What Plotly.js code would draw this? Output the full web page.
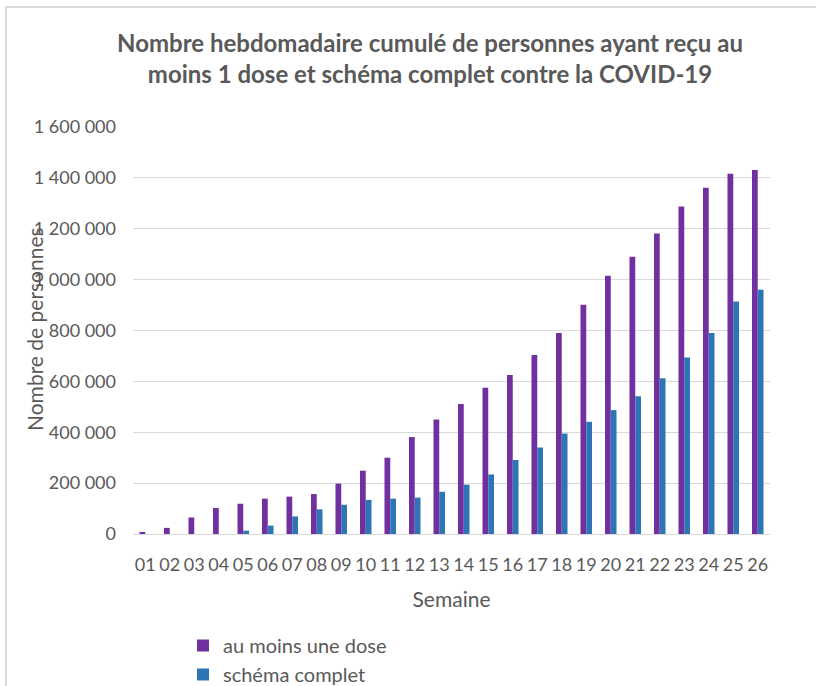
<!DOCTYPE html>
<html>
<head>
<meta charset="utf-8">
<script src="https://cdn.plot.ly/plotly-3.0.1.min.js"></script>
<style>
  body { margin: 0; background: #fff; }
  #chart { width: 816px; height: 686px; }
</style>
</head>
<body>
<div id="chart"></div>
<script>
// semaines 01 à 26
const semaines = ['01','02','03','04','05','06','07','08','09','10','11','12','13',
                  '14','15','16','17','18','19','20','21','22','23','24','25','26']

// valeurs (approx.)
const auMoinsUneDose = [7000, 24000, 65000, 102000, 119000, 139000, 147000, 157000, 198000,
                        249000, 300000, 381000, 450000, 511000, 575000, 625000, 704000, 790000,
                        901000, 1015000, 1090000, 1181000, 1287000, 1361000, 1416000, 1431000]
const schemaComplet = [0, 0, 0, 0, 13000, 33000, 69000, 97000, 115000,
                       134000, 139000, 143000, 166000, 194000, 234000, 291000, 340000, 395000,
                       441000, 487000, 542000, 612000, 694000, 790000, 914000, 960000]

const grey = '#595959'
const font = 'Lato, "Open Sans", sans-serif'

let traces = [
    {
        x: semaines,
        y: auMoinsUneDose,
        type: 'bar',
        name: 'au moins une dose',
        marker: { color: '#7030A0' },
        legendgroup: 'a'
    },
    {
        x: semaines,
        y: schemaComplet,
        type: 'bar',
        name: 'schéma complet',
        marker: { color: '#2E75B6' },
        legendgroup: 'b'
    }
]

let layout = {
    width: 816,
    height: 686,
    margin: { l: 133, r: 46, t: 127, b: 152, autoexpand: false },
    paper_bgcolor: '#ffffff',
    plot_bgcolor: '#ffffff',
    separators: ', ',
    font: { family: font, color: grey, size: 17 },
    barmode: 'group',
    bargap: 0.53,
    bargroupgap: 0,
    title: {
        text: 'Nombre hebdomadaire cumulé de personnes ayant reçu au<br>moins 1 dose et schéma complet contre la COVID-19',
        font: { family: font, size: 24, color: grey, weight: 'bold' },
        x: 430 / 816,
        xanchor: 'center',
        y: 1 - 52 / 686,
        yanchor: 'middle'
    },
    xaxis: {
        type: 'category',
        showgrid: false,
        showline: false,
        ticks: '',
        ticklabelstandoff: 18,
        tickfont: { size: 18, color: grey },
        title: {
            text: 'Semaine',
            font: { size: 21, color: grey },
            standoff: 18
        }
    },
    yaxis: {
        range: [0, 1600000],
        dtick: 200000,
        tickformat: ',d',
        showgrid: true,
        gridcolor: '#d9d9d9',
        gridwidth: 1,
        zeroline: true,
        zerolinecolor: '#d9d9d9',
        zerolinewidth: 1,
        ticks: '',
        ticklabelstandoff: 16,
        tickfont: { size: 18, color: grey }
    },
    annotations: [
        {
            text: 'Nombre de personnes',
            textangle: -90,
            xref: 'paper', yref: 'paper',
            x: (34 - 133) / 637, y: (534 - 329) / 407,
            xanchor: 'center', yanchor: 'middle',
            showarrow: false,
            font: { size: 21, color: grey }
        }
    ],
    shapes: [
        {
            type: 'path',
            xref: 'paper', yref: 'paper',
            path: `M ${(6 - 133) / 637},${(534 - 700) / 407} L ${(6 - 133) / 637},${(534 - 7) / 407} L ${(830 - 133) / 637},${(534 - 7) / 407}`,
            line: { color: '#d9d9d9', width: 2 }
        }
    ],
    showlegend: true,
    legend: {
        orientation: 'v',
        x: (183 - 133) / 637,
        xanchor: 'left',
        y: (534 - 626) / 407,
        yanchor: 'top',
        font: { size: 20, color: grey },
        tracegroupgap: 14,
        itemwidth: 30,
        traceorder: 'normal'
    }
}

Plotly.newPlot('chart', traces, layout, { displayModeBar: false })
</script>
</body>
</html>
